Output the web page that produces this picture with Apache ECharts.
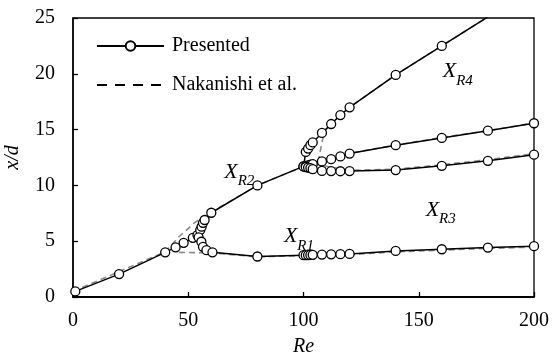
<!DOCTYPE html>
<html>
<head>
<meta charset="utf-8">
<script src="https://cdn.jsdelivr.net/npm/echarts@6/dist/echarts.min.js"></script>
<style>html,body{margin:0;padding:0;background:#fff}#c{width:552px;height:355px}</style>
</head>
<body>
<div id="c"></div>
<script>
// ---- data (Re, x/d) ----
const xTicks = [0, 50, 100, 150, 200];
const yTicks = [0, 5, 10, 15, 20, 25];

// Presented (solid, circles)
const presMain = [[1,0.5],[20,2.05],[40,4.0],[44.5,4.45],[48,4.85],[52,5.3],[54,5.55],[55.2,6.0],[55.8,6.3],[56.4,6.65],[57.1,6.9],[60,7.55],[80,10.0],[100,11.7],[101,13.0],[102,13.3],[103,13.6],[104,13.85],[108,14.7],[112,15.5],[116,16.3],[120,17.0],[140,19.9],[160,22.5],[200,27.7]];
const presR1 = [[54.5,5.35],[55.7,4.95],[56.4,4.5],[57.9,4.2],[60.5,4.0],[80,3.63],[100,3.75],[101,3.75],[102,3.76],[103,3.77],[104,3.78],[108,3.8],[112,3.82],[116,3.84],[120,3.86],[140,4.13],[160,4.28],[180,4.43],[200,4.55]];
const presMidUp = [[100,11.7],[101,11.75],[102,11.8],[103,11.85],[104,11.9],[108,12.15],[112,12.35],[116,12.6],[120,12.85],[140,13.6],[160,14.25],[180,14.9],[200,15.57]];
const presMidLow = [[101,11.65],[102,11.6],[103,11.55],[104,11.45],[108,11.3],[112,11.28],[116,11.27],[120,11.28],[140,11.37],[160,11.75],[180,12.2],[200,12.75]];

// Nakanishi et al. (dashed)
const nakMain = [[0,0.5],[40,4.05],[46,5.4],[53,6.7],[60,7.6],[80,10.0],[100,11.7],[105,11.9],[106.5,12.3],[109,14.8],[112,15.5],[120,17.0],[140,19.9],[160,22.5],[200,27.7]];
const nakR1 = [[46,4.0],[60,3.95],[80,3.6],[100,3.7],[120,3.78],[140,4.05],[160,4.2],[180,4.35],[200,4.47]];
const nakMidUp = [[105,11.9],[120,12.9],[140,13.6],[160,14.3],[180,14.9],[200,15.6]];
const nakMidLow = [[105,11.9],[120,11.35],[140,11.45],[160,11.85],[180,12.3],[200,12.85]];

// region labels: [Re, x/d, subscript]
const regionLabels = [[65.6,11.3,'R2'],[91.5,5.5,'R1'],[153,7.9,'R3'],[160.4,20.3,'R4']];

const FONT = '"Liberation Serif", "Times New Roman", serif';
const DASH_ICON = 'path://M0,0h0.01v0.01h-0.01z M0,12h0.01v-0.01h-0.01z M67,0h-0.01v0.01h0.01z ' +
  'M0,5h10v2h-10z M18,5h10v2h-10z M36,5h10v2h-10z M54,5h10v2h-10z';
const chart = echarts.init(document.getElementById('c'));

function pres(data) {
  return {
    type: 'line', name: 'Presented', data: data, z: 5,
    symbol: 'circle', symbolSize: 9, showAllSymbol: true,
    lineStyle: {color: '#000', width: 1.5},
    itemStyle: {color: '#fff', borderColor: '#000', borderWidth: 1.3},
    emphasis: {disabled: true}, animation: false
  };
}
function nak(data) {
  return {
    type: 'line', name: 'Nakanishi et al.', data: data, z: 3,
    symbol: 'none',
    lineStyle: {color: '#8a8a8a', width: 1.6, type: [6, 4]},
    itemStyle: {color: '#000'},
    emphasis: {disabled: true}, animation: false
  };
}

chart.setOption({
  animation: false,
  backgroundColor: '#fff',
  grid: {left: 73, right: 18, top: 18, bottom: 58, outerBoundsMode: 'none', containLabel: false,
         show: true, borderColor: '#000', borderWidth: 1.3, backgroundColor: 'transparent'},
  legend: {
    orient: 'vertical', left: 96, top: 36, padding: 0, itemWidth: 67, itemHeight: 12, itemGap: 19,
    textStyle: {fontFamily: FONT, fontSize: 20, color: '#000', padding: [0,0,0,3]},
    data: [
      {name: 'Presented'},
      {name: 'Nakanishi et al.', icon: DASH_ICON, itemStyle: {color: '#000', borderWidth: 0, opacity: 1}}
    ]
  },
  xAxis: {
    type: 'value', min: 0, max: 200, interval: 50,
    name: 'Re', nameLocation: 'middle', nameGap: 40,
    nameTextStyle: {fontFamily: FONT, fontSize: 20, fontStyle: 'italic', color: '#000'},
    axisLine: {show: true, lineStyle: {color: '#000', width: 1.8}},
    axisTick: {show: true, inside: true, length: 5, lineStyle: {color: '#000', width: 1.3}},
    axisLabel: {fontFamily: FONT, fontSize: 20, color: '#000', margin: 14},
    splitLine: {show: false}
  },
  yAxis: {
    type: 'value', min: 0, max: 25, interval: 5,
    name: 'x/d', nameLocation: 'middle', nameGap: 50, nameRotate: 90,
    nameTextStyle: {fontFamily: FONT, fontSize: 20, fontStyle: 'italic', color: '#000'},
    axisLine: {show: true, lineStyle: {color: '#000', width: 1.5}},
    axisTick: {show: true, inside: true, length: 5, lineStyle: {color: '#000', width: 1.3}},
    axisLabel: {fontFamily: FONT, fontSize: 20, color: '#000', margin: 18},
    splitLine: {show: false}
  },
  series: [nak(nakMain), nak(nakR1), nak(nakMidUp), nak(nakMidLow),
           pres(presMain), pres(presR1), pres(presMidUp), pres(presMidLow)]
});

const g = regionLabels.map(function (l) {
  const p = chart.convertToPixel({gridIndex: 0}, [l[0], l[1]]);
  return {
    type: 'text', x: p[0], y: p[1], z: 100,
    style: {
      text: '{x|X}{s|' + l[2] + '}', verticalAlign: 'middle', align: 'left',
      rich: {
        x: {fontFamily: FONT, fontSize: 22, fontStyle: 'italic', fill: '#000', lineHeight: 24, verticalAlign: 'bottom'},
        s: {fontFamily: FONT, fontSize: 15, fontStyle: 'italic', fill: '#000', lineHeight: 24, verticalAlign: 'bottom', padding: [0,0,-6,0]}
      }
    }
  };
});
chart.setOption({graphic: g});
</script>
</body>
</html>
